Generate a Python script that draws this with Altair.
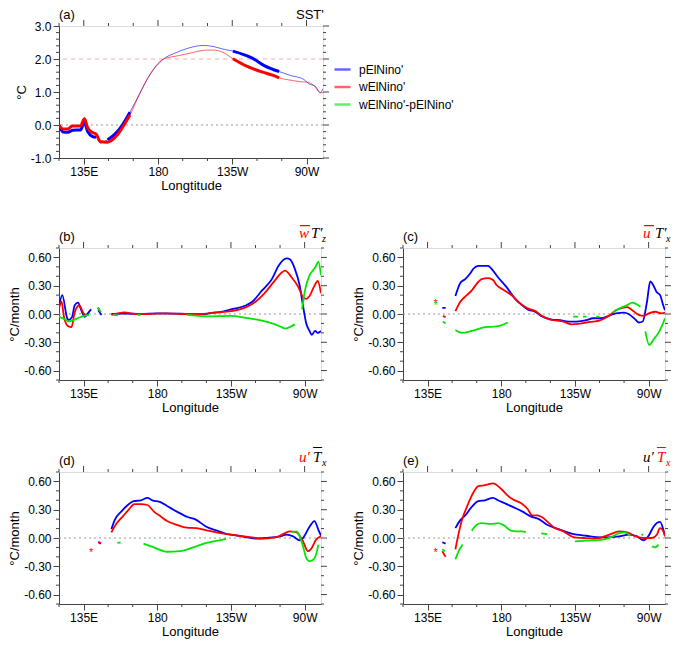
import altair as alt
import pandas as pd

FONT = "Liberation Sans"
SERIF = "Liberation Serif"
BLUE, RED, GREEN = "#0000ff", "#ff0000", "#00e600"
SERIES = ["pElNino'", "wElNino'", "wElNino'-pElNino'"]
COLORS = [BLUE, RED, GREEN]
FRAME = "#444444"

# ---------------- axis tick values / labels ----------------
X_MAJOR = [135, 180, 225, 270]
X_MINOR = [120, 150, 165, 195, 210, 240, 255]
X_LABELS = ["135E", "180", "135W", "90W"]
A_Y_MAJOR = [-1.0, 0.0, 1.0, 2.0, 3.0]
A_Y_MINOR = [-0.8, -0.6, -0.4, -0.2, 0.2, 0.4, 0.6, 0.8, 1.2, 1.4, 1.6, 1.8, 2.2, 2.4, 2.6, 2.8]
F_Y_MAJOR = [-0.6, -0.3, 0.0, 0.3, 0.6]
F_Y_MINOR = [-0.7, -0.5, -0.4, -0.2, -0.1, 0.1, 0.2, 0.4, 0.5, 0.7]

# ---------------- panel (a) SST' ----------------
A_BLUE_LON = [120, 122.4, 125.4, 128.4, 133, 135.4, 137.4, 140.4, 142.4, 145, 149.4, 153.4, 158.4, 163,
              169.4, 174.4, 183.4, 191.4, 198.4, 207.4, 213.4, 219.4, 225.4, 237.4, 244.4, 253.4, 260.4,
              268.4, 271.4, 275.4, 278.4, 280]
A_BLUE_VAL = [0.0, -0.21, -0.22, -0.16, -0.15, 0.08, -0.2, -0.35, -0.37, -0.55, -0.45, -0.3, 0.0, 0.39,
              1.0, 1.47, 2.0, 2.2, 2.33, 2.41, 2.38, 2.3, 2.24, 2.02, 1.8, 1.62, 1.5,
              1.38, 1.25, 1.17, 0.98, 1.1]
A_BLUE_THICK = [[120, 142.4], [149.4, 163], [225.4, 253.4]]
A_RED_LON = [120, 122.4, 125.4, 128, 133, 135.4, 137.4, 140, 142.6, 145, 149.4, 151.4, 155.4, 159.4, 163,
             169.4, 174.4, 183.4, 193.4, 201.4, 209.4, 213.4, 219.4, 225.4, 233.4, 243.4, 249.4, 253.4,
             261.4, 266.4, 270.4, 274.4, 278.4, 280]
A_RED_VAL = [0.0, -0.12, -0.12, -0.03, -0.03, 0.19, -0.08, -0.22, -0.28, -0.5, -0.52, -0.48, -0.3, 0.0, 0.3,
             1.0, 1.47, 2.0, 2.11, 2.2, 2.27, 2.27, 2.2, 2.01, 1.79, 1.6, 1.51, 1.43,
             1.35, 1.31, 1.3, 1.2, 0.98, 0.98]
A_RED_THICK = [[120, 163], [225.4, 253.4]]

# ---------------- panel (b) wbar T'z ----------------
B_BLUE = [
    [[120, 122, 125, 126, 128, 129.6, 131.6, 133.6, 135.6, 137.6, 139.6],
     [0.077, 0.2, -0.045, -0.063, -0.03, 0.094, 0.12, 0.04, -0.03, 0.007, 0.05]],
    [[144, 146], [0.04, -0.01]],
    [[152, 160, 170, 180, 190, 200, 210, 212, 218, 225, 234, 238, 244, 250, 254, 259, 261, 264, 267, 269,
      271, 273, 274.4, 276.4, 278, 280],
     [0.0, 0.005, 0.0, 0.007, 0.005, 0.0, 0.0, 0.01, 0.02, 0.05, 0.09, 0.13, 0.25, 0.37, 0.51, 0.59, 0.58,
      0.48, 0.30, 0.09, -0.1, -0.18, -0.22, -0.18, -0.2, -0.18]],
]
B_RED = [
    [[120, 121.6, 123, 125.6, 127.6, 129.6, 132.4, 135, 136.4],
     [0.06, 0.13, -0.03, -0.13, -0.14, 0.02, 0.09, 0.007, -0.02]],
    [[143.6, 144.6], [0.066, 0.05]],
    [[152, 160, 166, 175, 185, 195, 205, 216, 225, 234, 240, 246, 252, 256, 258, 262, 266, 269, 271, 273,
      276, 278, 280],
     [-0.01, 0.017, 0.0, 0.0, 0.007, 0.0, 0.0, 0.017, 0.03, 0.07, 0.13, 0.23, 0.36, 0.44, 0.46, 0.39, 0.29,
      0.18, 0.16, 0.19, 0.30, 0.35, 0.22]],
]
B_GREEN = [
    [[120, 124, 126, 128, 132, 136, 138.4], [-0.03, -0.06, -0.08, -0.07, -0.04, -0.017, -0.01]],
    [[143.6, 145.6], [0.066, 0.023]],
    [[153, 156], [-0.01, -0.015]],
    [[168, 170], [-0.01, -0.01]],
    [[198, 210, 225, 234, 244, 252, 256, 258, 262, 264],
     [-0.01, -0.025, -0.02, -0.04, -0.07, -0.11, -0.14, -0.155, -0.13, -0.11]],
    [[268.4, 270, 273, 275, 277, 278.4, 280], [0.05, 0.23, 0.41, 0.46, 0.51, 0.555, 0.41]],
]

# ---------------- panel (c) ubar T'x ----------------
C_BLUE = [
    [[144, 146], [0.065, 0.065]],
    [[152, 155, 158, 161, 163, 166, 172, 174, 178, 183, 189, 193, 197, 200, 204, 211, 216, 221, 226, 232,
      236, 241, 246, 250, 255, 258, 262, 264, 266.4, 269, 271, 273, 275, 277, 279, 280],
     [0.19, 0.33, 0.37, 0.43, 0.48, 0.51, 0.51, 0.48, 0.39, 0.29, 0.15, 0.09, 0.04, 0.03, -0.017, -0.06,
      -0.066, -0.08, -0.08, -0.066, -0.045, -0.045, -0.017, 0.007, 0.014, -0.003, -0.06, -0.09, -0.08,
      0.13, 0.345, 0.3, 0.23, 0.2, 0.087, 0.04]],
]
C_RED = [
    [[144.4, 146], [-0.02, -0.035]],
    [[152, 155, 159, 162, 165, 168, 172, 175, 177, 182, 187, 191, 196, 201, 204, 210, 218, 223, 227, 232,
      236, 240, 246, 250, 254, 257, 260, 264, 267, 270, 274, 278, 280],
     [0.03, 0.13, 0.2, 0.25, 0.32, 0.37, 0.38, 0.36, 0.31, 0.25, 0.19, 0.12, 0.06, 0.03, -0.01, -0.06,
      -0.08, -0.11, -0.105, -0.09, -0.08, -0.07, -0.017, 0.04, 0.066, 0.073, 0.04, -0.01, -0.02, 0.007,
      0.024, 0.007, 0.014]],
]
C_GREEN = [
    [[144.4, 146], [-0.08, -0.1]],
    [[152, 156, 162, 170, 175, 180, 184], [-0.17, -0.2, -0.18, -0.14, -0.135, -0.12, -0.09]],
    [[224, 227], [-0.028, -0.028]],
    [[230, 232], [-0.028, -0.028]],
    [[238, 240], [-0.028, -0.028]],
    [[248, 253, 257, 260, 262, 265], [0.017, 0.066, 0.094, 0.12, 0.11, 0.077]],
    [[268, 270.4, 273, 276, 278, 280], [-0.185, -0.33, -0.27, -0.2, -0.13, -0.045]],
]
C_STAR_LON = [140, 140]
C_STAR_VAL = [0.11, 0.085]
C_STAR_SER = ["wElNino'", "wElNino'-pElNino'"]

# ---------------- panel (d) u' Tbar_x ----------------
D_BLUE = [
    [[144, 145.6], [-0.045, -0.06]],
    [[152, 154, 158, 162, 165.6, 170, 174, 177, 182, 186, 192, 199, 203, 210, 216, 222, 228, 234, 241, 246,
      255, 259, 263, 267, 269, 273, 276, 278.4, 280],
     [0.094, 0.19, 0.28, 0.35, 0.39, 0.40, 0.425, 0.40, 0.38, 0.34, 0.28, 0.22, 0.2, 0.12, 0.08, 0.045,
      0.028, 0.01, -0.007, 0.0, 0.017, 0.035, 0.017, -0.024, 0.0, 0.12, 0.18, 0.087, 0.024]],
]
D_RED = [
    [[144, 145.6], [-0.04, -0.055]],
    [[152, 155, 159, 163, 166, 170, 174, 178, 182, 186, 192, 198, 204, 210, 216, 224, 230, 238, 244, 252,
      255, 258, 261, 265, 269, 272, 274, 277, 280],
     [0.06, 0.15, 0.23, 0.31, 0.36, 0.36, 0.35, 0.28, 0.23, 0.18, 0.14, 0.11, 0.105, 0.08, 0.06, 0.038,
      0.024, 0.007, -0.007, 0.007, 0.024, 0.052, 0.07, 0.06, -0.035, -0.14, -0.115, -0.017, 0.017]],
]
D_GREEN = [
    [[155.6, 157.6], [-0.05, -0.05]],
    [[171.6, 178, 186, 194, 202, 210, 218, 222], [-0.06, -0.1, -0.146, -0.14, -0.1, -0.052, -0.024, -0.01]],
    [[262, 265, 267, 269, 271, 273, 275, 277, 278.4],
     [0.063, 0.07, 0.017, -0.087, -0.21, -0.245, -0.234, -0.174, -0.07]],
]
D_STAR_LON = [139.6]
D_STAR_VAL = [-0.16]
D_STAR_SER = ["wElNino'"]

# ---------------- panel (e) u' Tbar_x ----------------
E_BLUE = [
    [[144, 146], [-0.045, -0.06]],
    [[152, 155, 158, 162, 166, 170, 175, 178, 182, 187, 193, 198, 203, 208, 214, 220, 226, 232, 238, 244,
      252, 258, 263, 267, 270, 273, 277, 279, 280],
     [0.105, 0.19, 0.24, 0.33, 0.39, 0.40, 0.425, 0.40, 0.37, 0.33, 0.28, 0.23, 0.2, 0.14, 0.1, 0.063,
      0.035, 0.024, 0.01, 0.007, 0.017, 0.035, 0.017, -0.024, 0.024, 0.12, 0.17, 0.087, 0.024]],
]
E_RED = [
    [[144, 146], [-0.14, -0.2]],
    [[152, 153.6, 156, 159, 162, 166, 170, 175, 180, 184, 187, 192, 196, 199, 202, 205, 209, 212, 218, 224,
      230, 236, 240, 246, 252, 257, 262, 267, 272, 275, 277, 279, 280],
     [-0.12, 0.017, 0.19, 0.33, 0.45, 0.55, 0.56, 0.58, 0.52, 0.45, 0.41, 0.37, 0.31, 0.24, 0.24, 0.22,
      0.16, 0.115, 0.07, 0.01, 0.0, -0.007, 0.0, 0.035, 0.07, 0.06, 0.017, 0.0, 0.0, 0.035, 0.105, 0.07,
      0.017]],
]
E_GREEN = [
    [[144, 145.6], [-0.12, -0.14]],
    [[152, 154, 156.4], [-0.227, -0.14, -0.07]],
    [[162, 165, 168, 174, 178, 182, 186, 189, 193, 195],
     [0.077, 0.14, 0.157, 0.15, 0.157, 0.13, 0.077, 0.07, 0.07, 0.06]],
    [[204.4, 208], [0.05, 0.04]],
    [[225, 232, 242, 248, 252, 255, 259], [-0.035, -0.028, -0.017, 0.017, 0.052, 0.06, 0.024]],
    [[265.6, 266.6], [0.04, 0.03]],
    [[272, 274, 276], [-0.087, -0.1, -0.07]],
]
E_STAR_LON = [140]
E_STAR_VAL = [-0.16]
E_STAR_SER = ["wElNino'"]

# ---------------- helpers ----------------
def seg_df(blue, red, green):
    rows = []
    for name, segs in zip(SERIES, [blue, red, green]):
        for k, (lons, vals) in enumerate(segs):
            for lo, va in zip(lons, vals):
                rows.append({"lon": lo, "val": va, "series": name, "seg": f"{name}-{k}"})
    return pd.DataFrame(rows)


def thick_df(lons, vals, ranges, name):
    rows = []
    for k, (a, b) in enumerate(ranges):
        for lo, va in zip(lons, vals):
            if a <= lo <= b:
                rows.append({"lon": lo, "val": va, "series": name, "seg": f"{name}-{k}"})
    return pd.DataFrame(rows)


XLAB = "".join(f"datum.value == {v} ? '{t}' : " for v, t in zip(X_MAJOR, X_LABELS)) + "''"

AX = dict(tickColor=FRAME, labelColor="black", titleColor="black", domainColor=FRAME, domainWidth=1,
          labelFont=FONT, titleFont=FONT, labelFontSize=12, titleFontSize=13,
          titleFontWeight="normal", grid=False, labelOverlap=False, labelFlush=False,
          tickWidth=1, tickSize=6, labelPadding=2, titlePadding=2)

XS = alt.Scale(domain=[120, 280], nice=False, zero=False)


def tick_rules(width, height, ys, ymajor, yminor):
    """Extra tick marks (minor bottom/left, major+minor top/right), positioned through the scales."""
    out = []
    xn = alt.X("v:Q", scale=XS, axis=None)
    yn = alt.Y("v:Q", scale=ys, axis=None)
    specs = [
        (X_MINOR, "x", height, height + 3),
        (X_MAJOR, "x", 0, -6),
        (X_MINOR, "x", 0, -3),
        (yminor, "y", 0, -3),
        (ymajor, "y", width, width + 6),
        (yminor, "y", width, width + 3),
    ]
    for vals, ch, a, b in specs:
        base = alt.Chart(pd.DataFrame({"v": vals})).mark_rule(color=FRAME, strokeWidth=1)
        if ch == "x":
            out.append(base.encode(x=xn, y=alt.value(a), y2=alt.value(b)))
        else:
            out.append(base.encode(y=yn, x=alt.value(a), x2=alt.value(b)))
    return out


def build_panel(width, height, df_thin, ydom, ymajor, yminor, yfmt, ytitle, xtitle, letter, pieces,
                thin_style, thick=None, stars=None, rules=None, legend=None):
    ys = alt.Scale(domain=ydom, nice=False, zero=False)
    ylab = f"replace(format(datum.value, '{yfmt}'), '\u2212', '-')"
    color = alt.Color("series:N", scale=alt.Scale(domain=SERIES, range=COLORS), legend=legend)
    x_main = alt.X("lon:Q", scale=XS,
                   axis=alt.Axis(orient="bottom", values=X_MAJOR, labelExpr=XLAB, title=xtitle, **AX))
    y_main = alt.Y("val:Q", scale=ys,
                   axis=alt.Axis(orient="left", values=ymajor, labelExpr=ylab, title=ytitle, **AX))
    x_none = alt.X("lon:Q", scale=XS, axis=None)
    y_none = alt.Y("val:Q", scale=ys, axis=None)
    layers = []
    for (rv, rc, rd) in rules:
        layers.append(alt.Chart(pd.DataFrame({"val": [rv]})).mark_rule(
            color=rc, strokeDash=rd, strokeWidth=1.2).encode(y=y_none))
    layers.append(alt.Chart(df_thin).mark_line(clip=True, interpolate="monotone", **thin_style).encode(
        x=x_main, y=y_main, color=color, detail="seg:N", order="lon:Q"))
    layers.extend(tick_rules(width, height, ys, ymajor, yminor))
    if thick is not None:
        layers.append(alt.Chart(thick).mark_line(clip=True, interpolate="monotone", strokeWidth=3).encode(
            x=x_none, y=y_none,
            color=alt.Color("series:N", scale=alt.Scale(domain=SERIES, range=COLORS), legend=None),
            detail="seg:N", order="lon:Q"))
    if stars is not None:
        layers.append(alt.Chart(stars).mark_text(text="*", fontSize=11, font=FONT, baseline="middle").encode(
            x=x_none, y=y_none,
            color=alt.Color("series:N", scale=alt.Scale(domain=SERIES, range=COLORS), legend=None)))
    layers.append(alt.Chart(pd.DataFrame({"t": [letter]})).mark_text(
        align="left", baseline="alphabetic", font=FONT, fontSize=13, color="black").encode(
        x=alt.value(0), y=alt.value(-7), text="t:N"))
    for (txt, col, off, yy, size, serif, bold) in pieces:
        layers.append(alt.Chart(pd.DataFrame({"t": [txt]})).mark_text(
            align="left", baseline="alphabetic", font=SERIF if serif else FONT,
            fontStyle="italic" if serif else "normal", fontWeight="bold" if bold else "normal",
            fontSize=size, color=col).encode(
            x=alt.value(width + off), y=alt.value(yy), text="t:N"))
    return alt.layer(*layers).resolve_axis(x="independent", y="independent").properties(
        width=width, height=height)


# ---------------- panel (a) ----------------
df_a = pd.DataFrame({
    "lon": A_BLUE_LON + A_RED_LON,
    "val": A_BLUE_VAL + A_RED_VAL,
    "series": [SERIES[0]] * len(A_BLUE_LON) + [SERIES[1]] * len(A_RED_LON),
    "seg": ["b"] * len(A_BLUE_LON) + ["r"] * len(A_RED_LON),
})
thick_a = pd.concat([thick_df(A_BLUE_LON, A_BLUE_VAL, A_BLUE_THICK, SERIES[0]),
                     thick_df(A_RED_LON, A_RED_VAL, A_RED_THICK, SERIES[1])])

PW_A, PW, PH = 264, 262, 132

legend_a = alt.Legend(orient="none", legendX=PW_A + 10, legendY=34, title=None, symbolType="stroke",
                      symbolStrokeWidth=2.5, symbolSize=256, labelFont=FONT, labelFontSize=12,
                      labelColor="black", rowPadding=1.5, labelOffset=7)

panel_a = build_panel(PW_A, PH, df_a, [-1, 3], A_Y_MAJOR, A_Y_MINOR, ".1f", "\u00b0C", "Longtitude", "(a)",
                      [("SST'", "black", -27, -7, 13, False, False)],
                      dict(strokeWidth=1, opacity=0.6), thick=thick_a,
                      rules=[(0, "#999999", [2, 3]), (2, "#ffaaaa", [4, 4])], legend=legend_a)

ZERO = [(0, "#999999", [2, 3])]
BAR = "\u2014"


def star_df(lons, vals, sers):
    return pd.DataFrame({"lon": lons, "val": vals, "series": sers})


def wbar_title(c1, c2, c3, first, sub):
    # overlined first symbol (lower-case) followed by T' and a subscript
    return [(first, c1, -22, -10, 15, True, False), (BAR, c1, -21, -19, 10, False, True),
            ("T\u2032", c2, -10, -10, 15, True, False), (sub, c3, 1, -6, 10, True, False)]


def tbar_title(c1, c2):
    # u' followed by an overlined T with subscript x
    return [("u\u2032", c1, -22, -10, 15, True, False), ("T", c2, -8, -10, 15, True, False),
            (BAR, c2, -8, -22, 9, False, True), ("x", c2, 1, -6, 10, True, False)]


LINE = dict(strokeWidth=1.8)

panel_b = build_panel(PW, PH, seg_df(B_BLUE, B_RED, B_GREEN), [-0.7, 0.7], F_Y_MAJOR, F_Y_MINOR, ".2f",
                      "\u00b0C/month", "Longitude", "(b)", wbar_title(RED, "black", "black", "w", "z"),
                      LINE, rules=ZERO)
panel_c = build_panel(PW, PH, seg_df(C_BLUE, C_RED, C_GREEN), [-0.7, 0.7], F_Y_MAJOR, F_Y_MINOR, ".2f",
                      "\u00b0C/month", "Longitude", "(c)", wbar_title(RED, "black", "black", "u", "x"),
                      LINE, rules=ZERO, stars=star_df(C_STAR_LON, C_STAR_VAL, C_STAR_SER))
panel_d = build_panel(PW, PH, seg_df(D_BLUE, D_RED, D_GREEN), [-0.7, 0.7], F_Y_MAJOR, F_Y_MINOR, ".2f",
                      "\u00b0C/month", "Longitude", "(d)", tbar_title(RED, "black"),
                      LINE, rules=ZERO, stars=star_df(D_STAR_LON, D_STAR_VAL, D_STAR_SER))
panel_e = build_panel(PW, PH, seg_df(E_BLUE, E_RED, E_GREEN), [-0.7, 0.7], F_Y_MAJOR, F_Y_MINOR, ".2f",
                      "\u00b0C/month", "Longitude", "(e)", tbar_title("black", RED),
                      LINE, rules=ZERO, stars=star_df(E_STAR_LON, E_STAR_VAL, E_STAR_SER))

row2 = alt.hconcat(panel_b, panel_c, spacing=24).resolve_scale(color="independent")
row3 = alt.hconcat(panel_d, panel_e, spacing=24).resolve_scale(color="independent")

chart = alt.vconcat(panel_a, row2, row3, spacing=27).resolve_scale(
    color="independent").properties(padding=0).configure_view(stroke=FRAME).configure(background="white")

chart.save("out.html", embed_options={"renderer": "svg", "actions": False})
